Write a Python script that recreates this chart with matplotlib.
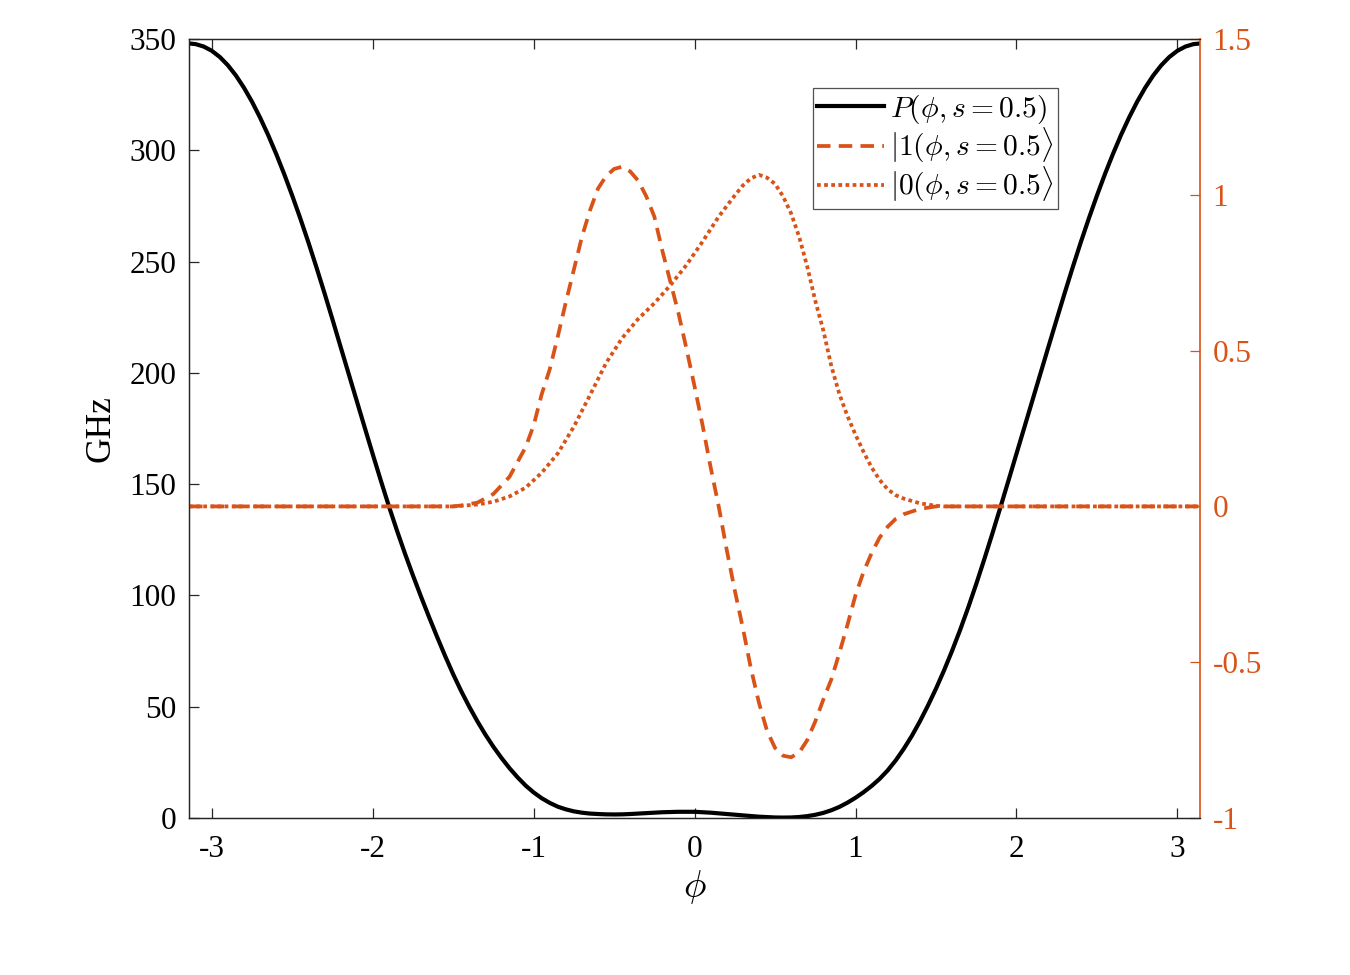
import matplotlib
matplotlib.use("Agg")
import matplotlib.pyplot as plt
import numpy as np

# ---------------- data ----------------
phi_P = [-3.1416, -3.1, -3.05, -3.0, -2.95, -2.9, -2.85, -2.8, -2.75, -2.7,
         -2.65, -2.6, -2.55, -2.5, -2.45, -2.4, -2.35, -2.3, -2.25, -2.2,
         -2.15, -2.1, -2.05, -2.0, -1.95, -1.9, -1.85, -1.8, -1.75, -1.7,
         -1.65, -1.6, -1.55, -1.5, -1.45, -1.4, -1.35, -1.3, -1.25, -1.2,
         -1.15, -1.1, -1.05, -1.0, -0.95, -0.9, -0.85, -0.8, -0.75, -0.7,
         -0.65, -0.6, -0.55, -0.5, -0.45, -0.4, -0.3, -0.2, -0.1, 0.0,
         0.1, 0.2, 0.3, 0.4, 0.5, 0.55, 0.6, 0.65, 0.7, 0.75,
         0.8, 0.85, 0.9, 0.95, 1.0, 1.05, 1.1, 1.15, 1.2, 1.25,
         1.3, 1.35, 1.4, 1.45, 1.5, 1.55, 1.6, 1.65, 1.7, 1.75,
         1.8, 1.85, 1.9, 1.95, 2.0, 2.05, 2.1, 2.15, 2.2, 2.25,
         2.3, 2.35, 2.4, 2.45, 2.5, 2.55, 2.6, 2.65, 2.7, 2.75,
         2.8, 2.85, 2.9, 2.95, 3.0, 3.05, 3.1, 3.1416]
P_vals = [348, 347.7, 346.6, 344.7, 341.9, 338.2, 333.6, 328.1, 321.8, 314.7,
          306.9, 298.4, 289.3, 279.6, 269.4, 258.7, 247.5, 235.9, 224.0, 211.8,
          199.7, 187.6, 175.5, 163.5, 151.7, 140.2, 129.3, 118.9, 109.0, 99.5,
          90.3, 81.4, 72.8, 64.6, 57.0, 50.0, 43.5, 37.5, 32.0, 27.0,
          22.4, 18.3, 14.6, 11.5, 8.9, 6.8, 5.1, 3.9, 3.0, 2.4,
          2.0, 1.8, 1.65, 1.6, 1.65, 1.8, 2.2, 2.6, 2.8, 2.8,
          2.4, 1.8, 1.2, 0.6, 0.25, 0.2, 0.25, 0.45, 0.85, 1.45,
          2.3, 3.5, 5.0, 6.9, 9.1, 11.6, 14.4, 17.6, 21.4, 25.9,
          31.1, 36.9, 43.4, 50.5, 58.1, 66.3, 75.1, 84.5, 94.5, 105.1,
          116.2, 127.7, 139.5, 151.5, 163.6, 175.7, 187.8, 199.9, 212.0, 224.0,
          235.9, 247.5, 258.7, 269.4, 279.6, 289.3, 298.4, 306.9, 314.7, 321.8,
          328.1, 333.6, 338.2, 341.9, 344.7, 346.6, 347.7, 348]

phi_1 = [-3.1416, -1.5, -1.45, -1.35, -1.25, -1.15, -1.05, -1.0, -0.95, -0.9,
         -0.85, -0.8, -0.75, -0.7, -0.65, -0.6, -0.55, -0.5, -0.45, -0.4,
         -0.35, -0.3, -0.25, -0.2, -0.15, -0.1, -0.05, 0.0, 0.05, 0.1,
         0.15, 0.2, 0.25, 0.3, 0.35, 0.4, 0.45, 0.5, 0.55, 0.6,
         0.65, 0.7, 0.75, 0.8, 0.85, 0.9, 0.95, 1.0, 1.05, 1.1,
         1.15, 1.2, 1.25, 1.3, 1.4, 1.5, 3.1416]
psi1 = [0, 0, 0.003, 0.012, 0.04, 0.095, 0.19, 0.26, 0.36, 0.44,
        0.545, 0.655, 0.76, 0.865, 0.95, 1.02, 1.06, 1.083, 1.09, 1.075,
        1.045, 0.995, 0.93, 0.82, 0.72, 0.62, 0.505, 0.385, 0.26, 0.125,
        0.0, -0.14, -0.27, -0.39, -0.52, -0.63, -0.72, -0.775, -0.80, -0.805,
        -0.79, -0.75, -0.69, -0.62, -0.555, -0.47, -0.38, -0.285, -0.21, -0.15,
        -0.10, -0.065, -0.04, -0.025, -0.008, 0, 0]

phi_0 = [-3.1416, -1.5, -1.45, -1.35, -1.25, -1.15, -1.05, -0.95, -0.85, -0.75,
         -0.65, -0.55, -0.45, -0.35, -0.25, -0.15, -0.05, 0.05, 0.15, 0.25,
         0.3, 0.35, 0.4, 0.45, 0.5, 0.55, 0.6, 0.65, 0.7, 0.75,
         0.8, 0.85, 0.9, 0.95, 1.0, 1.05, 1.1, 1.15, 1.2, 1.25,
         1.3, 1.4, 1.5, 1.55, 3.1416]
psi0 = [0, 0, 0.002, 0.006, 0.015, 0.032, 0.06, 0.108, 0.17, 0.256,
        0.357, 0.46, 0.54, 0.602, 0.652, 0.71, 0.775, 0.85, 0.93, 0.998,
        1.03, 1.053, 1.064, 1.055, 1.035, 0.995, 0.94, 0.865, 0.77, 0.66,
        0.565, 0.45, 0.36, 0.29, 0.23, 0.175, 0.125, 0.085, 0.055, 0.036,
        0.025, 0.01, 0.002, 0, 0]

x_ticks = [-3, -2, -1, 0, 1, 2, 3]
left_ticks = [0, 50, 100, 150, 200, 250, 300, 350]
right_ticks = [-1, -0.5, 0, 0.5, 1, 1.5]
right_labels = ["-1", "-0.5", "0", "0.5", "1", "1.5"]

# ---------------- style ----------------
ORANGE = "#D95319"
AXC = "#262626"
plt.rcParams["font.family"] = ["Liberation Serif", "DejaVu Serif"]
plt.rcParams["mathtext.fontset"] = "cm"
plt.rcParams["axes.unicode_minus"] = False

fig = plt.figure(figsize=(9, 6.5), dpi=150)
ax = fig.add_axes([0.14, 0.161, 0.749, 0.799])
ax2 = ax.twinx()

l0, = ax.plot(phi_P, P_vals, color="black", lw=2.0, zorder=3,
              solid_joinstyle="round", label=r"$P(\phi,s=0.5)$")
l1, = ax2.plot(phi_1, psi1, color=ORANGE, lw=1.8, dashes=(3.6, 2.2),
               dash_joinstyle="round", label=r"$|1(\phi,s=0.5\rangle$")
l2, = ax2.plot(phi_0, psi0, color=ORANGE, lw=1.8, dashes=(1.0, 0.9),
               dash_joinstyle="round", label=r"$|0(\phi,s=0.5\rangle$")

ax.set_xlim(-np.pi, np.pi)
ax.set_ylim(0, 350)
ax2.set_ylim(-1, 1.5)

ax.set_xticks(x_ticks)
ax.set_xticklabels([str(t) for t in x_ticks])
ax.set_yticks(left_ticks)
ax.set_yticklabels([str(t) for t in left_ticks])
ax2.set_yticks(right_ticks)
ax2.set_yticklabels(right_labels)

ax.tick_params(axis="x", direction="in", top=True, bottom=True, length=5,
               width=0.6, color=AXC, labelsize=15, labelcolor="black", pad=8)
ax.tick_params(axis="y", direction="in", left=True, right=False, length=5,
               width=0.6, color=AXC, labelsize=15, labelcolor="black", pad=6)
ax2.tick_params(axis="y", direction="in", right=True, left=False, length=5,
                width=0.6, color=ORANGE, labelsize=15, labelcolor=ORANGE, pad=6)

for s in ["left", "top", "bottom"]:
    ax.spines[s].set_color(AXC)
    ax.spines[s].set_linewidth(0.6)
    ax2.spines[s].set_color(AXC)
    ax2.spines[s].set_linewidth(0.6)
ax.spines["right"].set_visible(False)
ax2.spines["right"].set_color(ORANGE)
ax2.spines["right"].set_linewidth(0.8)

ax.set_ylabel("GHz", fontsize=17, labelpad=6)
ax.set_xlabel(r"$\phi$", fontsize=18, labelpad=2)

leg = ax2.legend(handles=[l0, l1, l2], loc="upper left",
                 bbox_to_anchor=(0.617, 0.937), fontsize=14.2, frameon=True,
                 fancybox=False, edgecolor=AXC, handlelength=2.25,
                 handletextpad=0.2, labelspacing=0.0, borderpad=0.15,
                 borderaxespad=0)
leg.get_frame().set_linewidth(0.6)

fig.savefig("out.png", dpi=150, facecolor="white")
